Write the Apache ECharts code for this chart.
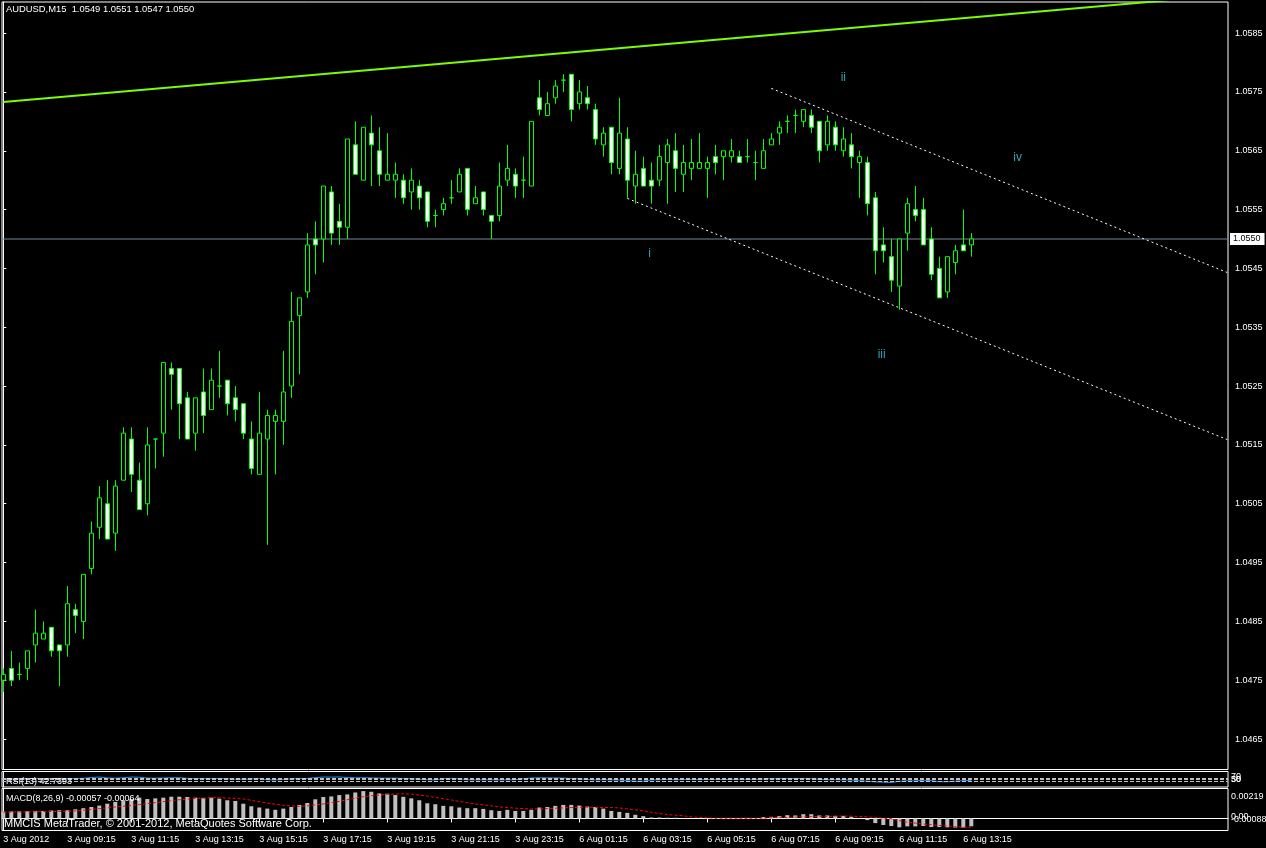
<!DOCTYPE html>
<html><head><meta charset="utf-8">
<script src="https://cdn.jsdelivr.net/npm/echarts@6/dist/echarts.min.js"></script>
<style>html,body{margin:0;padding:0;background:#000;}#c{width:1266px;height:848px;}</style>
</head><body><div id="c"></div>
<script>
// ---------- DATA ----------
const tickLabels = ['3 Aug 2012','3 Aug 09:15','3 Aug 11:15','3 Aug 13:15','3 Aug 15:15','3 Aug 17:15','3 Aug 19:15','3 Aug 21:15','3 Aug 23:15','6 Aug 01:15','6 Aug 03:15','6 Aug 05:15','6 Aug 07:15','6 Aug 09:15','6 Aug 11:15','6 Aug 13:15'];
const priceTicks = [1.0465,1.0475,1.0485,1.0495,1.0505,1.0515,1.0525,1.0535,1.0545,1.0555,1.0565,1.0575,1.0585];

const opens = [
1.0475,1.0477,1.0476,1.0477,1.0481,1.0482,1.0484,1.0481,1.0481,1.0487,
1.0485,1.0494,1.0501,1.0505,1.0500,1.0509,1.0516,1.0509,1.0505,1.0516,
1.0517,1.0528,1.0528,1.0523,1.0517,1.0524,1.0521,1.0525,1.0526,1.0523,
1.0522,1.0516,1.0510,1.0516,1.0519,1.0519,1.0525,1.0537,1.0541,1.0550,
1.0550,1.0558,1.0553,1.0552,1.0566,1.0560,1.0568,1.0565,1.0560,1.0560,
1.0560,1.0558,1.0559,1.0558,1.0554,1.0555,1.0557,1.0558,1.0562,1.0556,
1.0558,1.0554,1.0554,1.0560,1.0561,1.0560,1.0559,1.0574,1.0571,1.0574,
1.0577,1.0578,1.0573,1.0574,1.0572,1.0566,1.0569,1.0562,1.0567,1.0559,
1.0562,1.0560,1.0560,1.0563,1.0565,1.0561,1.0562,1.0562,1.0562,1.0564,
1.0564,1.0564,1.0564,1.0564,1.0563,1.0562,1.0566,1.0568,1.0570,1.0571,
1.0570,1.0571,1.0570,1.0566,1.0569,1.0565,1.0566,1.0563,1.0563,1.0557,
1.0549,1.0547,1.0542,1.0551,1.0555,1.0555,1.0550,1.0545,1.0541,1.0546,
1.0549,1.0549];
const closes = [
1.0476,1.0475,1.0476,1.0480,1.0483,1.0483,1.0480,1.0480,1.0488,1.0486,
1.0493,1.0500,1.0506,1.0499,1.0508,1.0517,1.0510,1.0504,1.0515,1.0516,
1.0529,1.0527,1.0522,1.0516,1.0523,1.0520,1.0526,1.0525,1.0522,1.0521,
1.0517,1.0511,1.0517,1.0520,1.0520,1.0524,1.0536,1.0540,1.0549,1.0549,
1.0559,1.0551,1.0552,1.0567,1.0561,1.0569,1.0566,1.0561,1.0561,1.0561,
1.0557,1.0560,1.0557,1.0553,1.0554,1.0556,1.0557,1.0561,1.0555,1.0557,
1.0555,1.0553,1.0559,1.0562,1.0559,1.0560,1.0570,1.0572,1.0573,1.0576,
1.0577,1.0572,1.0575,1.0573,1.0567,1.0568,1.0563,1.0568,1.0560,1.0561,
1.0559,1.0559,1.0564,1.0566,1.0562,1.0563,1.0563,1.0563,1.0563,1.0563,
1.0565,1.0565,1.0563,1.0564,1.0563,1.0565,1.0567,1.0569,1.0570,1.0571,
1.0572,1.0569,1.0565,1.0570,1.0566,1.0567,1.0564,1.0564,1.0556,1.0548,
1.0548,1.0543,1.0550,1.0556,1.0554,1.0549,1.0544,1.0540,1.0547,1.0548,
1.0548,1.0550];
const highs = [
1.0477,1.0480,1.0478,1.0480,1.0487,1.0485,1.0484,1.0481,1.0491,1.0488,
1.0493,1.0502,1.0508,1.0509,1.0509,1.0518,1.0518,1.0512,1.0518,1.0516,
1.0529,1.0529,1.0528,1.0524,1.0523,1.0528,1.0528,1.0531,1.0526,1.0525,
1.0522,1.0519,1.0524,1.0521,1.0521,1.0531,1.0541,1.0540,1.0551,1.0553,
1.0559,1.0559,1.0556,1.0567,1.0570,1.0569,1.0571,1.0569,1.0568,1.0563,
1.0561,1.0562,1.0560,1.0558,1.0555,1.0557,1.0560,1.0562,1.0562,1.0559,
1.0558,1.0554,1.0563,1.0566,1.0562,1.0564,1.0570,1.0577,1.0575,1.0577,
1.0578,1.0578,1.0577,1.0576,1.0573,1.0569,1.0569,1.0574,1.0569,1.0565,
1.0564,1.0563,1.0566,1.0567,1.0568,1.0566,1.0567,1.0568,1.0564,1.0566,
1.0565,1.0567,1.0565,1.0567,1.0565,1.0567,1.0568,1.0570,1.0571,1.0572,
1.0572,1.0572,1.0570,1.0571,1.0570,1.0569,1.0568,1.0565,1.0564,1.0558,
1.0552,1.0550,1.0550,1.0557,1.0559,1.0557,1.0552,1.0547,1.0547,1.0549,
1.0555,1.0551];
const lows = [
1.0473,1.0474,1.0475,1.0475,1.0478,1.0482,1.0479,1.0474,1.0479,1.0483,
1.0482,1.0493,1.0499,1.0499,1.0497,1.0509,1.0507,1.0504,1.0503,1.0511,
1.0513,1.0521,1.0516,1.0516,1.0514,1.0517,1.0521,1.0523,1.0520,1.0519,
1.0516,1.0510,1.0510,1.0498,1.0510,1.0515,1.0523,1.0527,1.0540,1.0544,
1.0546,1.0549,1.0549,1.0550,1.0561,1.0560,1.0559,1.0559,1.0560,1.0557,
1.0556,1.0555,1.0555,1.0552,1.0552,1.0554,1.0556,1.0558,1.0554,1.0556,
1.0554,1.0550,1.0553,1.0559,1.0557,1.0557,1.0559,1.0571,1.0571,1.0573,
1.0575,1.0570,1.0572,1.0572,1.0566,1.0564,1.0561,1.0561,1.0557,1.0556,
1.0559,1.0556,1.0559,1.0556,1.0558,1.0558,1.0560,1.0562,1.0557,1.0561,
1.0560,1.0563,1.0563,1.0563,1.0560,1.0562,1.0566,1.0566,1.0568,1.0568,
1.0569,1.0568,1.0563,1.0565,1.0565,1.0564,1.0562,1.0557,1.0554,1.0544,
1.0546,1.0541,1.0538,1.0548,1.0553,1.0549,1.0543,1.0540,1.0540,1.0544,
1.0548,1.0547];

const rsiValues = [
55,57,60,62,63,61,62,64,62,63,
65,72,78,68,66,70,78,76,67,66,
68,70,71,64,62,61,62,63,60,56,
55,58,62,50,48,52,60,62,63,72,
78,77,79,72,70,71,69,67,66,67,
62,60,56,50,48,62,64,60,50,48,
49,50,48,49,50,60,68,70,69,68,
67,62,60,52,48,50,48,47,40,35,
36,48,50,52,50,51,52,50,53,54,
52,55,56,54,55,57,60,61,62,64,
62,61,55,50,51,48,47,40,36,28,
25,21,34,40,38,44,41,30,29,36,
41,42.74];
const rsiLevels = [30, 50, 70];

const macdHist = [
0.00051,0.00051,0.00053,0.00053,0.00055,0.00055,0.00058,0.00060,0.00060,0.00067,
0.00075,0.00084,0.00094,0.00108,0.00121,0.00133,0.00142,0.00152,0.00142,0.00147,
0.00152,0.00159,0.00159,0.00157,0.00152,0.00149,0.00152,0.00145,0.00133,0.00128,
0.00108,0.00089,0.00080,0.00072,0.00063,0.00072,0.00084,0.00099,0.00113,0.00140,
0.00157,0.00161,0.00171,0.00176,0.00190,0.00200,0.00195,0.00183,0.00181,0.00171,
0.00158,0.00147,0.00133,0.00111,0.00104,0.00092,0.00089,0.00080,0.00075,0.00075,
0.00070,0.00060,0.00055,0.00063,0.00055,0.00055,0.00063,0.00080,0.00084,0.00092,
0.00099,0.00099,0.00094,0.00087,0.00084,0.00072,0.00055,0.00048,0.00041,0.00027,
0.00017,0.00007,0.00007,0.00005,0.00005,0.00002,0.00000,-0.00001,-0.00002,-0.00002,
-0.00001,0.00001,0.00002,0.00004,0.00003,0.00010,0.00012,0.00017,0.00024,0.00022,
0.00031,0.00031,0.00022,0.00022,0.00019,0.00019,0.00012,0.00002,-0.00012,-0.00034,
-0.00048,-0.00055,-0.00065,-0.00058,-0.00058,-0.00055,-0.00063,-0.00063,-0.00065,-0.00067,
-0.00067,-0.00057];
const macdSignal = [
0.00046,0.00046,0.00048,0.00048,0.00048,0.00051,0.00051,0.00051,0.00053,0.00055,
0.00060,0.00065,0.00072,0.00077,0.00084,0.00089,0.00094,0.00101,0.00108,0.00116,
0.00123,0.00130,0.00137,0.00142,0.00147,0.00149,0.00152,0.00152,0.00149,0.00147,
0.00142,0.00133,0.00123,0.00113,0.00104,0.00096,0.00092,0.00089,0.00092,0.00099,
0.00106,0.00116,0.00125,0.00137,0.00149,0.00159,0.00166,0.00171,0.00176,0.00178,
0.00181,0.00178,0.00171,0.00164,0.00154,0.00145,0.00135,0.00125,0.00116,0.00106,
0.00099,0.00092,0.00084,0.00080,0.00075,0.00072,0.00070,0.00070,0.00072,0.00075,
0.00077,0.00080,0.00082,0.00082,0.00082,0.00080,0.00080,0.00077,0.00070,0.00063,
0.00055,0.00046,0.00036,0.00029,0.00024,0.00019,0.00012,0.00007,0.00005,0.00002,
0.00002,0.00002,0.00002,0.00002,0.00002,0.00002,0.00005,0.00007,0.00007,0.00010,
0.00012,0.00014,0.00014,0.00014,0.00017,0.00017,0.00017,0.00014,0.00012,0.00007,
0.00002,-0.00002,-0.00017,-0.00027,-0.00034,-0.00041,-0.00046,-0.00051,-0.00055,-0.00060,
-0.00063,-0.00064];
const macdMax = 0.00219, macdMin = -0.00088;
const macdScaleLabels = ['0.00219', '0.00', '-0.00088'];

const bidPrice = 1.0550;
// trend line (bar index, price)
const trendLine = [[0, 1.05733], [150, 1.05911]];
const channelUpper = [[96, 1.05756], [153, 1.05443]];
const channelLower = [[78, 1.05569], [153, 1.05159]];
const waveNames = ['i', 'ii', 'iii', 'iv'];
const wavePoints = [[80.8, 1.05475], [105, 1.05775], [109.8, 1.05303], [126.8, 1.05638]];

const titleText = 'AUDUSD,M15  1.0549 1.0551 1.0547 1.0550';
const rsiText = 'RSI(13) 42.7393';
const macdText = 'MACD(8,26,9) -0.00057 -0.00064';
const copyText = 'MMCIS MetaTrader, \u00A9 2001-2012, MetaQuotes Software Corp.';

// ---------- CHART ----------
const FONT = 'Liberation Sans, Arial, sans-serif';
const X_MIN = -0.1625, X_MAX = 153.0875;
const Y_MIN = 1.0459829, Y_MAX = 1.0590284;
const RSI_MIN = -25, RSI_MAX = 135;
const tickPos = tickLabels.map((_, i) => i * 8);

const candleData = opens.map((o, i) => [i, o, closes[i], lows[i], highs[i]]);
const rsiData = rsiValues.map((v, i) => [i, v]);
const histData = macdHist.map((v, i) => [i, v]);
const sigData = macdSignal.map((v, i) => [i, v]);
const bidData = [[X_MIN, bidPrice], [X_MAX, bidPrice]];

function hiddenX(idx) {
  return {type: 'value', gridIndex: idx, min: X_MIN, max: X_MAX, show: false, splitLine: {show: false}};
}
function labelAxis(gridIndex, min, max, values, formatter, richStyle, showLine) {
  return {
    type: 'value', gridIndex, position: 'right', min, max,
    splitLine: {show: false},
    axisLine: {show: !!showLine, lineStyle: {color: '#fff'}},
    axisTick: {show: false},
    axisLabel: {
      customValues: values, margin: 3, color: '#fff', fontSize: 9, fontFamily: FONT,
      hideOverlap: false, showMinLabel: true, showMaxLabel: true,
      formatter: formatter ? (v => '{s|' + formatter(v) + '}') : undefined,
      rich: richStyle ? {s: Object.assign({color: '#fff', fontSize: 9, fontFamily: FONT}, richStyle)} : undefined
    }
  };
}

const gridBase = {show: true, borderColor: '#fff', borderWidth: 1, backgroundColor: 'transparent', containLabel: false, outerBoundsMode: 'none'};

const chart = echarts.init(document.getElementById('c'), null, {renderer: 'canvas'});
chart.setOption({
  backgroundColor: '#000000',
  animation: false,
  textStyle: {fontFamily: FONT},
  title: [
    {text: titleText, left: 6, top: 5, padding: 0, textStyle: {color: '#fff', fontSize: 9.4, fontWeight: 'normal', fontFamily: FONT}},
    {text: rsiText, left: 6, top: 777, padding: 0, textStyle: {color: '#fff', fontSize: 9, fontWeight: 'normal', fontFamily: FONT}},
    {text: macdText, left: 6, top: 794, padding: 0, textStyle: {color: '#fff', fontSize: 9, fontWeight: 'normal', fontFamily: FONT}},
    {text: copyText, left: 4, top: 818, padding: 0, textStyle: {color: '#fff', fontSize: 11, fontWeight: 'normal', fontFamily: FONT}}
  ],
  grid: [
    Object.assign({left: 2, top: 2, width: 1226, height: 767.5}, gridBase),
    Object.assign({left: 2, top: 771.5, width: 1226, height: 15.5}, gridBase),
    Object.assign({left: 2, top: 788.5, width: 1226, height: 42}, gridBase)
  ],
  xAxis: [
    hiddenX(0),
    hiddenX(1),
    {
      type: 'value', gridIndex: 2, min: X_MIN, max: X_MAX, position: 'bottom',
      splitLine: {show: false},
      axisLine: {show: true, lineStyle: {color: '#fff'}},
      axisTick: {show: true, length: 4, customValues: tickPos, lineStyle: {color: '#fff'}},
      axisLabel: {
        customValues: tickPos, align: 'left', margin: 5, color: '#fff', fontSize: 9, fontFamily: FONT,
        hideOverlap: false,
        formatter: v => tickLabels[Math.round(v / 8)]
      }
    }
  ],
  yAxis: [
    {
      type: 'value', gridIndex: 0, position: 'right', min: Y_MIN, max: Y_MAX,
      splitLine: {show: false},
      axisLine: {show: true, lineStyle: {color: '#fff'}},
      axisTick: {show: true, length: 3, customValues: priceTicks, lineStyle: {color: '#fff'}},
      axisLabel: {customValues: priceTicks, margin: 7, color: '#fff', fontSize: 9, fontFamily: FONT, formatter: v => v.toFixed(4)}
    },
    // RSI scale labels (one axis each, so the overlapping labels all stay visible)
    labelAxis(1, RSI_MIN, RSI_MAX, [rsiLevels[2]], v => String(v), {padding: [0, 0, 2, 0]}, true),
    labelAxis(1, RSI_MIN, RSI_MAX, [rsiLevels[1]], v => String(v), {padding: [0, 0, 0, 0]}, false),
    labelAxis(1, RSI_MIN, RSI_MAX, [rsiLevels[0]], v => String(v), {padding: [0, 0, 4, 0]}, false),
    // MACD scale labels
    labelAxis(2, macdMin, macdMax, [macdMax], () => macdScaleLabels[0], {padding: [16, 0, 0, 0]}, true),
    labelAxis(2, macdMin, macdMax, [0], () => macdScaleLabels[1], {padding: [0, 0, 4, 0]}, false),
    labelAxis(2, macdMin, macdMax, [macdMin], () => macdScaleLabels[2], {padding: [0, 0, 22, 0]}, false)
  ],
  series: [
    {
      type: 'line', xAxisIndex: 0, yAxisIndex: 0, data: bidData, symbol: 'none', silent: true, z: 1,
      lineStyle: {color: '#778899', width: 1},
      endLabel: {show: true, distance: 2, formatter: bidPrice.toFixed(4), color: '#000', backgroundColor: '#fff', fontSize: 9, fontFamily: FONT, padding: [2, 4, 1, 3]}
    },
    {
      type: 'candlestick', xAxisIndex: 0, yAxisIndex: 0, barWidth: 4, z: 2,
      encode: {x: 0, y: [1, 2, 3, 4]},
      data: candleData,
      itemStyle: {color: '#000000', color0: '#ffffff', borderColor: '#00ff00', borderColor0: '#00ff00', borderColorDoji: '#00ff00', borderWidth: 1},
      silent: true
    },
    {type: 'line', xAxisIndex: 0, yAxisIndex: 0, data: trendLine, symbol: 'none', silent: true, clip: true, z: 3, lineStyle: {color: '#7CFC00', width: 2}},
    {type: 'line', xAxisIndex: 0, yAxisIndex: 0, data: channelUpper, symbol: 'none', silent: true, clip: true, z: 3, lineStyle: {color: '#ffffff', width: 1, type: [2, 3]}},
    {type: 'line', xAxisIndex: 0, yAxisIndex: 0, data: channelLower, symbol: 'none', silent: true, clip: true, z: 3, lineStyle: {color: '#ffffff', width: 1, type: [2, 3]}},
    {
      type: 'scatter', xAxisIndex: 0, yAxisIndex: 0, data: wavePoints, symbolSize: 1, silent: true, z: 4,
      itemStyle: {color: 'rgba(0,0,0,0)'},
      label: {show: true, position: 'inside', formatter: p => waveNames[p.dataIndex], color: '#40c8e0', fontSize: 12, fontFamily: FONT}
    },
    {
      type: 'line', xAxisIndex: 1, yAxisIndex: 1, data: rsiData, symbol: 'none', silent: true,
      lineStyle: {color: '#1E90FF', width: 1},
      markLine: {
        silent: true, symbol: ['none', 'none'], label: {show: false},
        lineStyle: {color: '#c0c0c0', type: [4, 2], width: 1},
        data: rsiLevels.map(v => ({yAxis: v}))
      }
    },
    {type: 'bar', xAxisIndex: 2, yAxisIndex: 4, data: histData, barWidth: 4, silent: true, itemStyle: {color: '#C0C0C0'}},
    {type: 'line', xAxisIndex: 2, yAxisIndex: 4, data: sigData, symbol: 'none', silent: true, lineStyle: {color: '#ff0000', width: 1, type: [3, 2]}}
  ]
});
</script></body></html>
